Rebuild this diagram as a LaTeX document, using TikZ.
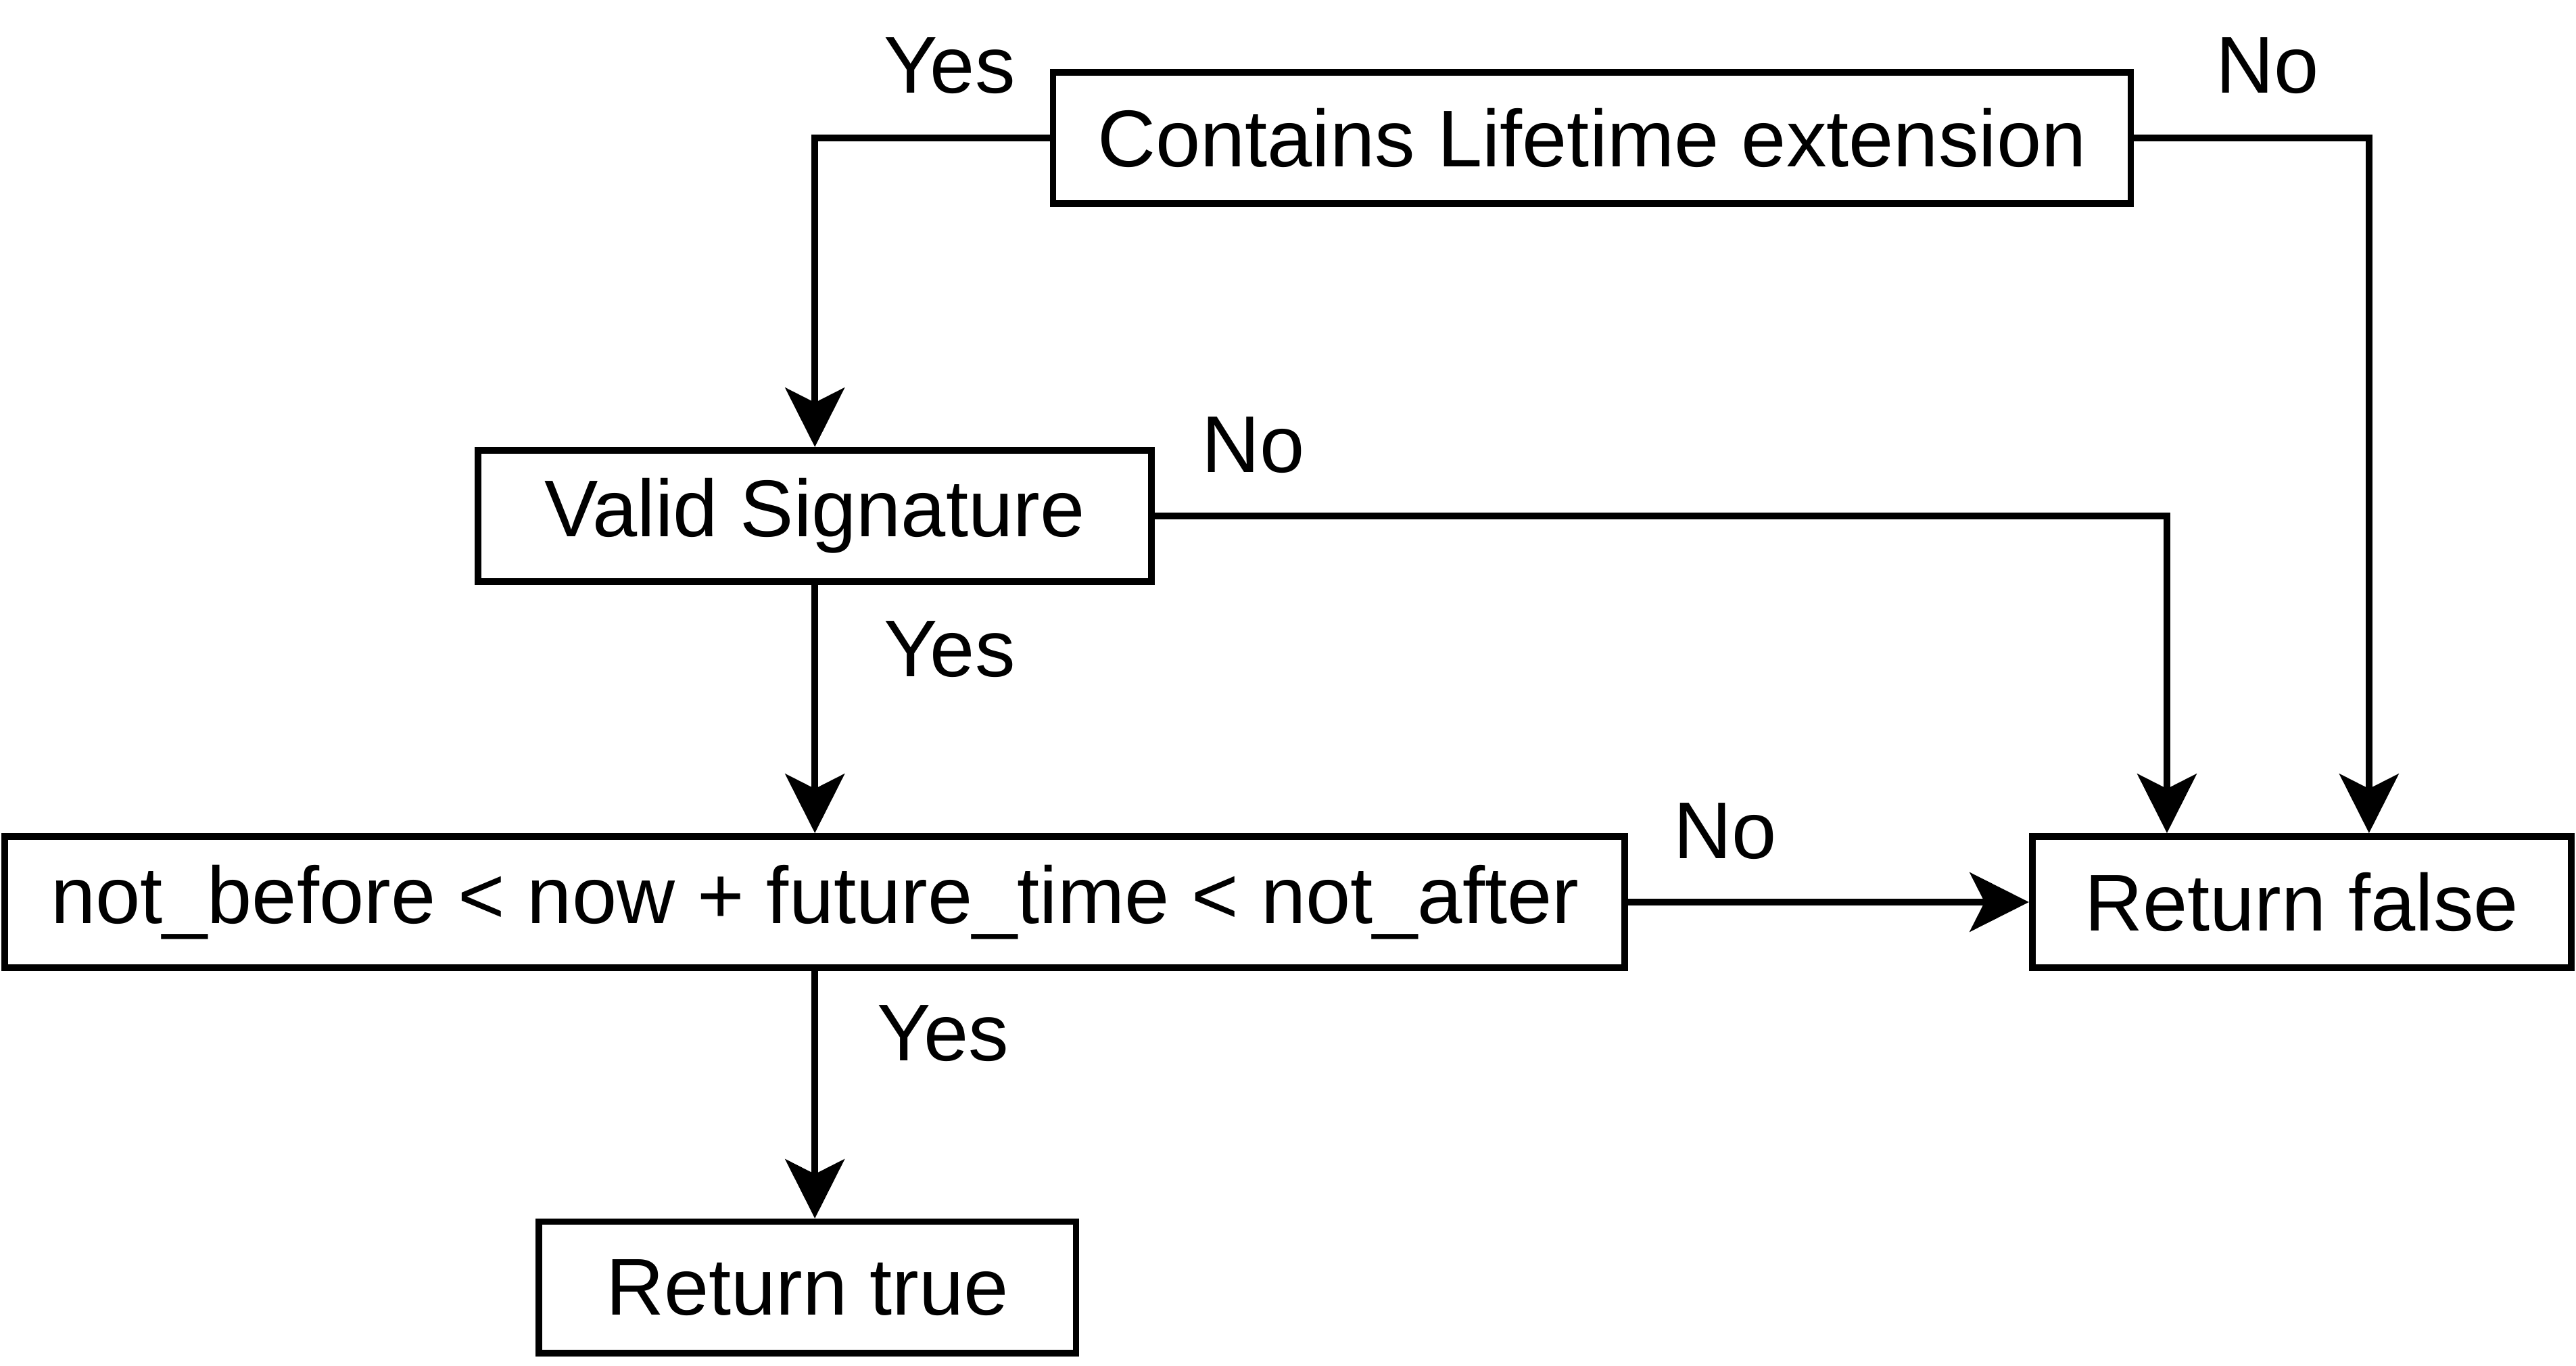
\documentclass[tikz,border=0pt]{standalone}
\usepackage{fontspec}
\setmainfont{Liberation Sans}
\usepackage{tikz}
\usetikzlibrary{arrows.meta,positioning,calc}

\tikzset{
  testbox/.style={draw=black, line width=4pt, fill=white, minimum height=80pt,
                  inner sep=0pt, font=\fontsize{49}{58}\selectfont},
  flow/.style={draw=black, line width=4pt,
               -{Stealth[length=36pt, width=36pt, inset=9pt]}},
  answer/.style={font=\fontsize{49}{58}\selectfont, inner sep=0pt}
}

\begin{document}
\begin{tikzpicture}[x=1pt, y=-1pt]
\useasboundingbox (0,0) rectangle (1568,831);

% decision boxes
\node[testbox, minimum width=656pt] (lifetime)  at (969,84)    {Contains Lifetime extension};
\node[testbox, minimum width=410pt] (signature) at (496,314)   {Valid Signature};
\node[testbox, minimum width=986pt] (window)    at (496,549)   {not\_before < now + future\_time < not\_after};
\node[testbox, minimum width=328pt] (retfalse)  at (1401,549)  {Return false};
\node[testbox, minimum width=327pt] (rettrue)   at (491.5,783.5) {Return true};

% connectors
\draw[flow] (lifetime.west) -| (signature.north);
\draw[flow] (lifetime.east) -| ([xshift=41pt]retfalse.north);
\draw[flow] (signature.east) -| ([xshift=-82pt]retfalse.north);
\draw[flow] (signature.south) -- (window.north);
\draw[flow] (window.east) -- (retfalse.west);
\draw[flow] (window.south) -- (window.south |- rettrue.north);

% labels
\node[answer] (yes1) at (578,40)  {Yes};
\node[answer] (no1)  at (1380,40) {No};
\node[answer] (no2)  at (763,271) {No};
\node[answer] (yes2) at (578,395) {Yes};
\node[answer] (no3)  at (1050,506) {No};
\node[answer] (yes3) at (574,629) {Yes};
\end{tikzpicture}
\end{document}
